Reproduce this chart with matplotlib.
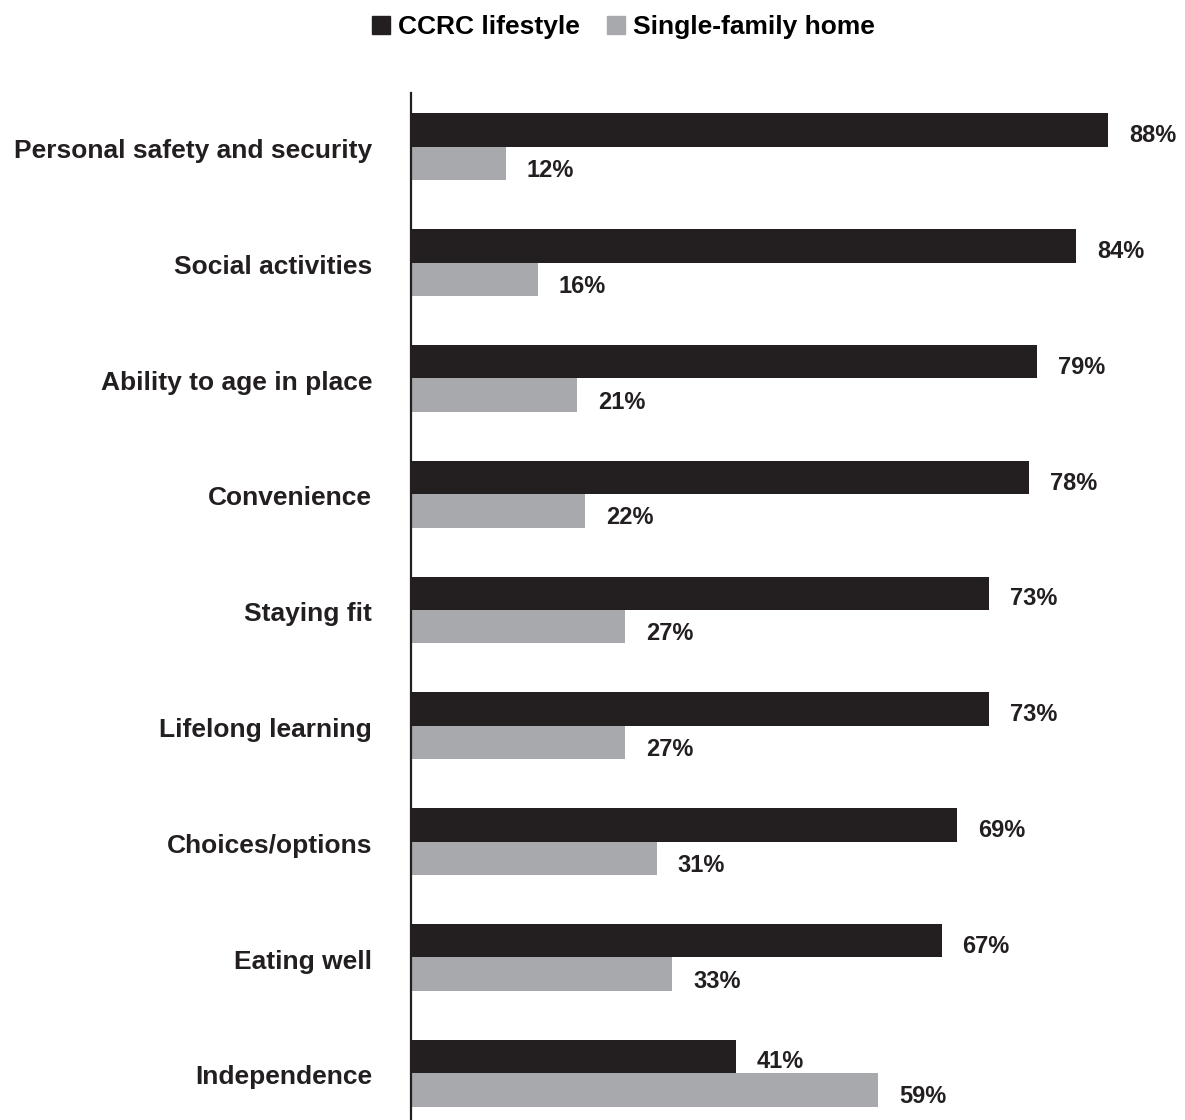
import matplotlib
matplotlib.use("Agg")
import matplotlib.pyplot as plt
from matplotlib.patches import Patch
import numpy as np

# ------------------------------------------------------------
# Dados
# ------------------------------------------------------------
categorias = [
    "Personal safety and security",
    "Social activities",
    "Ability to age in place",
    "Convenience",
    "Staying fit",
    "Lifelong learning",
    "Choices/options",
    "Eating well",
    "Independence",
]
ccrc = [88, 84, 79, 78, 73, 73, 69, 67, 41]
casa = [12, 16, 21, 22, 27, 27, 31, 33, 59]
series = ["CCRC lifestyle", "Single-family home"]

COR_PRETO = "#231f20"
COR_CINZA = "#a7a9ac"

plt.rcParams["font.family"] = ["Liberation Sans", "DejaVu Sans"]

# ------------------------------------------------------------
# Figura
# ------------------------------------------------------------
fig = plt.figure(figsize=(11.85, 11.2), dpi=100)
ax = fig.add_axes([411 / 1185, 0.0, 1 - 411 / 1185, 1 - 93 / 1120])

y = np.arange(len(categorias))
h = 0.289

ax.barh(y - h / 2, ccrc, height=h, color=COR_PRETO)
ax.barh(y + h / 2, casa, height=h, color=COR_CINZA)

# rotulos de valor
for yi, v in zip(y, ccrc):
    ax.annotate(f"{v}%", (v, yi - h / 2), xytext=(15, -4), textcoords="offset points",
                va="center", ha="left", fontsize=17, fontweight="bold", color=COR_PRETO)
for yi, v in zip(y, casa):
    ax.annotate(f"{v}%", (v, yi + h / 2), xytext=(15, -5), textcoords="offset points",
                va="center", ha="left", fontsize=17, fontweight="bold", color=COR_PRETO)

# rotulos de categoria
for yi, cat in zip(y, categorias):
    ax.annotate(cat, (0, yi), xytext=(-28, -3), textcoords="offset points",
                va="center", ha="right", fontsize=19, fontweight="bold", color=COR_PRETO,
                annotation_clip=False)

ax.set_xlim(0, (1185 - 411) / 7.92)
ax.set_ylim(8.405, -0.466)
ax.set_yticks([])
ax.set_xticks([])

for s in ["top", "right", "bottom"]:
    ax.spines[s].set_visible(False)
ax.spines["left"].set_linewidth(1.6)
ax.spines["left"].set_color(COR_PRETO)

handles = [Patch(color=COR_PRETO), Patch(color=COR_CINZA)]
fig.legend(handles, series, loc="center", bbox_to_anchor=(0.526, 1 - 27 / 1120),
           ncol=2, frameon=False, prop={"size": 19, "weight": "bold"},
           handlelength=0.7, handleheight=0.7, handletextpad=0.3, columnspacing=1.0)

fig.savefig("out.png", dpi=100)
